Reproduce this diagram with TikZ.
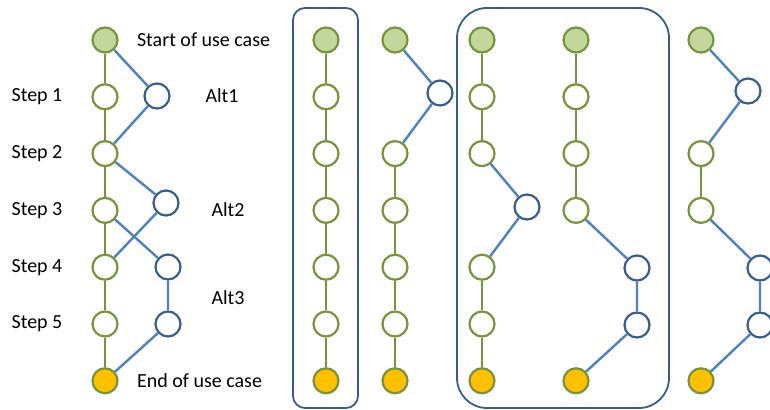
\documentclass[tikz,border=0pt]{standalone}
\usepackage{fontspec}
\setmainfont{Carlito}

\definecolor{stepgreen}{HTML}{77933C}
\definecolor{startfill}{HTML}{C3D69B}
\definecolor{endfill}{HTML}{FFC000}
\definecolor{altdark}{HTML}{385D8A}
\definecolor{linkblue}{HTML}{4F81BD}

\begin{document}
\begin{tikzpicture}[
    x=0.5pt, y=-0.5pt,
    font=\fontsize{10}{12}\selectfont,
    stepnode/.style={circle, draw=stepgreen, line width=1.1pt, fill=white,
        minimum size=12.5pt, inner sep=0pt},
    startnode/.style={stepnode, fill=startfill},
    endnode/.style={stepnode, fill=endfill},
    altnode/.style={circle, draw=altdark, line width=1.1pt, fill=white,
        minimum size=12.5pt, inner sep=0pt},
    mainlink/.style={stepgreen, line width=1.2pt},
    altlink/.style={linkblue, line width=1.2pt},
    groupbox/.style={draw=altdark, line width=0.9pt}
]

\useasboundingbox (0,0) rectangle (770,410);

\def\rowtop{40}
\def\rowgap{56.8}

%% Spalten: Name / x-Position / vorhandene Schritte
\foreach \col/\xpos/\steps in {%
    L/105/{1,2,3,4,5},
    A/326/{1,2,3,4,5},
    B/395/{2,3,4,5},
    C/482/{1,2,4,5},
    D/576/{1,2,3},
    E/701/{2,3}%
} {
    \node[startnode] (\col0) at (\xpos, \rowtop) {};
    \node[endnode]   (\col6) at (\xpos, {\rowtop + 6*\rowgap}) {};
    \foreach \k in \steps {
        \node[stepnode] (\col\k) at (\xpos, {\rowtop + \k*\rowgap}) {};
    }
}

%% Alternativen
\node[altnode] (La1) at (157, 96) {};
\node[altnode] (La2) at (166, 203) {};
\node[altnode] (La3) at (168, 267) {};
\node[altnode] (La4) at (168, 324) {};
\node[altnode] (Ba)  at (440, 93) {};
\node[altnode] (Ca)  at (527, 207) {};
\node[altnode] (Da)  at (637, 268) {};
\node[altnode] (Db)  at (637, 325) {};
\node[altnode] (Ea)  at (748, 91) {};
\node[altnode] (Eb)  at (760, 268) {};
\node[altnode] (Ec)  at (760, 325) {};

%% Hauptablauf links mit allen Alternativen
\draw[mainlink] (L0) -- (L1) -- (L2) -- (L3) -- (L4) -- (L5) -- (L6);
\draw[altlink] (L0) -- (La1) -- (L2);
\draw[altlink] (L2) -- (La2) -- (L4);
\draw[altlink] (L3) -- (La3) -- (La4) -- (L6);

%% einzelne Szenarien
\draw[mainlink] (A0) -- (A1) -- (A2) -- (A3) -- (A4) -- (A5) -- (A6);

\draw[altlink] (B0) -- (Ba) -- (B2);
\draw[mainlink] (B2) -- (B3) -- (B4) -- (B5) -- (B6);

\draw[mainlink] (C0) -- (C1) -- (C2);
\draw[altlink] (C2) -- (Ca) -- (C4);
\draw[mainlink] (C4) -- (C5) -- (C6);

\draw[mainlink] (D0) -- (D1) -- (D2) -- (D3);
\draw[altlink] (D3) -- (Da) -- (Db) -- (D6);

\draw[altlink] (E0) -- (Ea) -- (E2);
\draw[mainlink] (E2) -- (E3);
\draw[altlink] (E3) -- (Eb) -- (Ec) -- (E6);

%% Gruppierungen
\draw[groupbox, rounded corners=6pt] (293, 8) rectangle (358, 408);
\draw[groupbox, rounded corners=15pt] (457, 8) rectangle (669, 408);

%% Beschriftungen
\foreach \k in {1,...,5} {
    \node (steplabel\k) at (37, {\rowtop + \k*\rowgap}) {Step \k};
}
\node[anchor=west] (startlabel) at (130, \rowtop) {Start of use case};
\node[anchor=west] (endlabel) at (130, {\rowtop + 6*\rowgap}) {End of use case};
\node (alt1label) at (222, 96) {Alt1};
\node (alt2label) at (228, 210) {Alt2};
\node (alt3label) at (228, 298) {Alt3};

\end{tikzpicture}
\end{document}
